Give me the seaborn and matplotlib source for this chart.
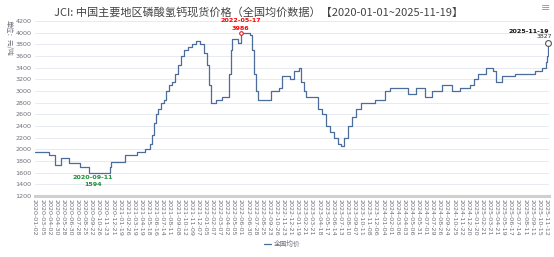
import numpy as np
import pandas as pd
import matplotlib
matplotlib.use("Agg")
import matplotlib.pyplot as plt
import seaborn as sns

# ---------------- data ----------------
tick_labels = [
    "2020-01-02", "2020-03-05", "2020-04-02", "2020-04-30", "2020-05-28", "2020-06-30",
    "2020-07-28", "2020-08-25", "2020-09-22", "2020-10-26", "2020-11-23", "2020-12-21",
    "2021-01-19", "2021-02-26", "2021-03-19", "2021-04-19", "2021-05-18", "2021-06-16",
    "2021-07-14", "2021-08-11", "2021-09-08", "2021-10-12", "2021-11-09", "2021-12-07",
    "2022-01-05", "2022-02-07", "2022-03-07", "2022-04-02", "2022-05-05", "2022-06-01",
    "2022-06-30", "2022-07-28", "2022-08-25", "2022-09-23", "2022-10-26", "2022-11-23",
    "2022-12-21", "2023-01-19", "2023-02-21", "2023-03-21", "2023-04-18", "2023-05-17",
    "2023-06-14", "2023-07-13", "2023-08-10", "2023-09-07", "2023-10-11", "2023-11-08",
    "2023-12-06", "2024-01-04", "2024-02-01", "2024-03-06", "2024-04-03", "2024-05-06",
    "2024-05-31", "2024-07-01", "2024-07-29", "2024-08-26", "2024-09-24", "2024-10-25",
    "2024-11-22", "2024-12-20", "2025-01-20", "2025-02-21", "2025-03-21", "2025-04-21",
    "2025-05-19", "2025-06-17", "2025-07-14", "2025-08-11", "2025-09-11", "2025-10-15",
    "2025-11-12",
]

# price change points (value holds until the next date)
change_dates = [
    "2020-01-02", "2020-04-05", "2020-04-27", "2020-05-22", "2020-06-23", "2020-08-10",
    "2020-09-11", "2020-12-11", "2020-12-15", "2021-02-16", "2021-04-02", "2021-05-05",
    "2021-05-26", "2021-06-03", "2021-06-11", "2021-06-19", "2021-06-27", "2021-07-09",
    "2021-07-21", "2021-07-28", "2021-08-10", "2021-08-21", "2021-09-02", "2021-09-15",
    "2021-09-29", "2021-10-14", "2021-10-29", "2021-11-14", "2021-11-30", "2021-12-16",
    "2022-01-01", "2022-01-15", "2022-01-24", "2022-02-02", "2022-02-23", "2022-03-17",
    "2022-04-15", "2022-04-24", "2022-04-29", "2022-05-21", "2022-06-01", "2022-07-10",
    "2022-07-18", "2022-07-26", "2022-08-02", "2022-08-10", "2022-10-04", "2022-11-07",
    "2022-11-19", "2022-12-21", "2023-01-06", "2023-01-27", "2023-02-05", "2023-02-20",
    "2023-02-28", "2023-04-16", "2023-05-02", "2023-05-19", "2023-06-03", "2023-06-19",
    "2023-07-05", "2023-07-18", "2023-07-29", "2023-08-14", "2023-08-30", "2023-09-16",
    "2023-10-11", "2023-12-05", "2024-01-14", "2024-02-03", "2024-04-23", "2024-05-24",
    "2024-07-01", "2024-07-29", "2024-09-06", "2024-10-18", "2024-11-20", "2024-12-30",
    "2025-01-17", "2025-02-04", "2025-03-07", "2025-04-08", "2025-04-21", "2025-05-15",
    "2025-07-05", "2025-09-27", "2025-10-26", "2025-11-14", "2025-11-17", "2025-11-19",
]
change_values = [
    1960, 1900, 1730, 1860, 1770, 1700,
    1594, 1700, 1790, 1900, 1960, 2000,
    2100, 2250, 2450, 2600, 2700, 2800,
    2850, 3000, 3100, 3150, 3300, 3450,
    3600, 3700, 3750, 3800, 3850, 3800,
    3650, 3450, 3100, 2800, 2850, 2900,
    3300, 3700, 3900, 3820, 3986, 3960,
    3700, 3300, 3000, 2850, 3000, 3050,
    3250, 3200, 3350, 3400, 3150, 3000,
    2900, 2700, 2600, 2400, 2300, 2200,
    2100, 2050, 2200, 2400, 2550, 2700,
    2800, 2850, 3000, 3050, 2950, 3050,
    2900, 3000, 3100, 3000, 3050, 3100,
    3200, 3300, 3400, 3350, 3150, 3250,
    3300, 3350, 3400, 3500, 3600, 3827,
]

series_name = "全国均价"
title = "JCI: 中国主要地区磷酸氢钙现货价格（全国均价数据）【2020-01-01~2025-11-19】"
unit_label = "单位：元/吨"
max_label = ("2022-05-17", 3986)
min_label = ("2020-09-11", 1594)
last_label = ("2025-11-19", 3827)

# ---------------- helpers ----------------
tick_ord = np.array([pd.Timestamp(d).toordinal() for d in tick_labels], dtype=float)
tick_idx = np.arange(len(tick_labels), dtype=float)


def to_pos(dates):
    d = np.array([pd.Timestamp(x).toordinal() for x in dates], dtype=float)
    p = np.interp(d, tick_ord, tick_idx)
    over = d > tick_ord[-1]
    p[over] = tick_idx[-1] + (d[over] - tick_ord[-1]) / (tick_ord[-1] - tick_ord[-2])
    return p


df = pd.DataFrame({"pos": to_pos(change_dates), "price": change_values,
                   "series": series_name})

LINE = "#4a6d9c"
GRAY = "#6e7079"

# ---------------- figure ----------------
sns.set_theme(style="white")
plt.rcParams["font.family"] = ["Noto Sans CJK SC", "DejaVu Sans"]

W, H = 554, 257
fig = plt.figure(figsize=(W / 100, H / 100), dpi=100)
fig.patch.set_facecolor("white")
left_px, right_px, top_px, bot_px = 34.5, 548.8, 21, 196
ax = fig.add_axes([left_px / W, 1 - bot_px / H, (right_px - left_px) / W,
                   (bot_px - top_px) / H])

sns.lineplot(data=df, x="pos", y="price", drawstyle="steps-post", color=LINE,
             linewidth=0.9, estimator=None, ax=ax, legend=False)

ax.set_xlim(0, 72.4)
ax.set_ylim(1200, 4200)
ax.set_xticks(tick_idx)
ax.set_xticklabels(tick_labels, rotation=-90, fontsize=4.6, color=GRAY,
                   ha="center", va="top", family=["DejaVu Sans"])
yt = np.arange(1200, 4201, 200)
ax.set_yticks(yt)
ax.set_yticklabels([str(v) for v in yt], fontsize=4.6, color=GRAY,
                   family=["DejaVu Sans"])
ax.tick_params(axis="both", length=0, pad=2)
ax.set_xlabel("")
ax.set_ylabel("")
ax.yaxis.grid(True, color="#e3e6ee", linewidth=0.6)
ax.xaxis.grid(False)
for s in ["top", "right", "left"]:
    ax.spines[s].set_visible(False)
ax.spines["bottom"].set_color("#cfcfcf")
ax.spines["bottom"].set_linewidth(2.2)

# annotations
pos = df["pos"].to_numpy()
val = df["price"].to_numpy()
imax = int(np.argmax(val))
imin = int(np.argmin(val))
xmax_, ymax_ = pos[imax], val[imax]
xmin_, ymin_ = pos[imin], val[imin]
xlast, ylast = pos[-1], val[-1]

ax.plot([xmax_], [ymax_], marker="o", ms=2.6, mfc="white", mec="#e02020", mew=0.8,
        zorder=5)
ax.annotate(max_label[0], (xmax_, ymax_), xytext=(0, 9), textcoords="offset points",
            ha="center", va="center", fontsize=4.6, color="#ff0000", fontweight="bold",
            family=["DejaVu Sans"])
ax.annotate(str(max_label[1]), (xmax_, ymax_), xytext=(0, 3.4), textcoords="offset points",
            ha="center", va="center", fontsize=4.6, color="#ff0000", fontweight="bold",
            family=["DejaVu Sans"])

ax.annotate(min_label[0], (xmin_, ymin_), xytext=(3, -3.5), textcoords="offset points",
            ha="center", va="center", fontsize=4.6, color="#1f8f3a", fontweight="bold",
            family=["DejaVu Sans"])
ax.annotate(str(min_label[1]), (xmin_, ymin_), xytext=(3, -8), textcoords="offset points",
            ha="center", va="center", fontsize=4.6, color="#1f8f3a", fontweight="bold",
            family=["DejaVu Sans"])

ax.plot([xlast], [ylast], marker="o", ms=4.2, mfc="white", mec="#555555", mew=0.8,
        zorder=5, clip_on=False)
ax.annotate(last_label[0], (xlast, ylast), xytext=(1, 8.2), textcoords="offset points",
            ha="right", va="center", fontsize=4.6, color="#111111", fontweight="bold",
            family=["DejaVu Sans"], annotation_clip=False)
ax.annotate(str(last_label[1]), (xlast, ylast), xytext=(-2.5, 4.3), textcoords="offset points",
            ha="center", va="center", fontsize=4.4, color="#333333",
            family=["DejaVu Sans"], annotation_clip=False)

# title, unit, menu icon
fig.text(259 / W, 1 - 12.5 / H, title, ha="center", va="center", fontsize=8,
         color="#444444")
fig.text(9 / W, 1 - 38 / H, unit_label, ha="center", va="center", fontsize=4.8,
         color=GRAY, rotation=-90)
fig.text(546 / W, 1 - 8 / H, "≡", ha="center", va="center", fontsize=8,
         color="#999999", family=["DejaVu Sans"])

# legend
handle = ax.lines[0]
fig.legend([handle], [series_name], loc="center", bbox_to_anchor=(282 / W, 1 - 244 / H),
           frameon=False, fontsize=4.8, handlelength=1.0, handletextpad=0.4,
           labelcolor=GRAY)

fig.savefig("out.png", dpi=100, facecolor="white")
